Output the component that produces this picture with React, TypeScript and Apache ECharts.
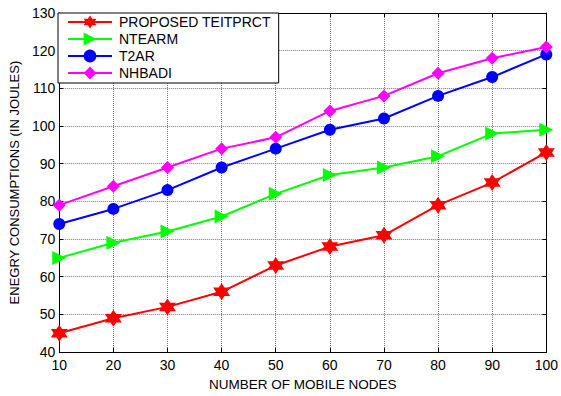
import React, { useEffect, useRef } from "react";
import * as echarts from "echarts";

const categories = [10, 20, 30, 40, 50, 60, 70, 80, 90, 100];
const proposed = [45, 49, 52, 56, 63, 68, 71, 79, 85, 93];
const ntearm = [65, 69, 72, 76, 82, 87, 89, 92, 98, 99];
const t2ar = [74, 78, 83, 89, 94, 99, 102, 108, 113, 119];
const nhbadi = [79, 84, 89, 94, 97, 104, 108, 114, 118, 121];
const seriesNames = ["PROPOSED TEITPRCT", "NTEARM", "T2AR", "NHBADI"];

const STAR =
  "path://M0,-10 L2.9,-5 L8.66,-5 L5.77,0 L8.66,5 L2.9,5 L0,10 L-2.9,5 L-8.66,5 L-5.77,0 L-8.66,-5 L-2.9,-5 Z";
const TRI = "path://M0,0 L10,5 L0,10 Z";

export default function App() {
  const ref = useRef<HTMLDivElement>(null);
  useEffect(() => {
    const chart = echarts.init(ref.current!, null, { renderer: "svg" });
    const font = "'Liberation Sans', Arial, sans-serif";
    const toPairs = (arr: number[]) => categories.map((c, i) => [c, arr[i]]);
    const mk = (name: string, data: number[], color: string, symbol: string, size: number) => ({
      name,
      type: "line",
      data: toPairs(data),
      symbol,
      symbolSize: size,
      showAllSymbol: true,
      lineStyle: { color, width: 2 },
      itemStyle: { color, borderWidth: 0 },
      xAxisIndex: 0,
      yAxisIndex: 0,
    });
    chart.setOption({
      animation: false,
      backgroundColor: "#fff",
      grid: { left: 58, right: 12, top: 13, bottom: 40, containLabel: false },
      legend: {
        orient: "vertical",
        left: 58,
        top: 13,
        width: 222,
        itemWidth: 44,
        itemHeight: 16,
        itemGap: 3,
        padding: [2, 8, 3, 9],
        backgroundColor: "#fff",
        borderColor: "#000",
        borderWidth: 1,
        borderRadius: 0,
        textStyle: { fontFamily: font, fontSize: 14, color: "#000", padding: [0, 0, 0, 2] },
        data: seriesNames,
      },
      xAxis: [
        {
          type: "value",
          min: 10,
          max: 100,
          interval: 10,
          axisLine: { show: true, onZero: false, lineStyle: { color: "#000", width: 1 } },
          axisTick: { show: true, inside: true, length: 4, lineStyle: { color: "#000" } },
          axisLabel: { fontFamily: font, fontSize: 14, color: "#000", margin: 6 },
          splitLine: { show: true, lineStyle: { color: "#777", type: "dotted", width: 1 } },
          name: "NUMBER OF MOBILE NODES",
          nameLocation: "middle",
          nameGap: 21,
          nameTextStyle: { fontFamily: font, fontSize: 13.5, color: "#000" },
        },
        {
          type: "value",
          position: "top",
          min: 10,
          max: 100,
          interval: 10,
          axisLine: { show: true, onZero: false, lineStyle: { color: "#000", width: 1 } },
          axisTick: { show: true, inside: true, length: 4, lineStyle: { color: "#000" } },
          axisLabel: { show: false },
          splitLine: { show: false },
        },
      ],
      yAxis: [
        {
          type: "value",
          min: 40,
          max: 130,
          interval: 10,
          axisLine: { show: true, onZero: false, lineStyle: { color: "#000", width: 1 } },
          axisTick: { show: true, inside: true, length: 4, lineStyle: { color: "#000" } },
          axisLabel: { fontFamily: font, fontSize: 14, color: "#000", margin: 4 },
          splitLine: { show: true, lineStyle: { color: "#777", type: "dotted", width: 1 } },
          name: "ENEGRY CONSUMPTIONS (IN JOULES)",
          nameLocation: "middle",
          nameGap: 36,
          nameTextStyle: { fontFamily: font, fontSize: 13, color: "#000" },
        },
        {
          type: "value",
          position: "right",
          min: 40,
          max: 130,
          interval: 10,
          axisLine: { show: true, onZero: false, lineStyle: { color: "#000", width: 1 } },
          axisTick: { show: true, inside: true, length: 4, lineStyle: { color: "#000" } },
          axisLabel: { show: false },
          splitLine: { show: false },
        },
      ],
      series: [
        mk(seriesNames[0], proposed, "#ff0000", STAR, 17),
        mk(seriesNames[1], ntearm, "#00ff00", TRI, 14),
        mk(seriesNames[2], t2ar, "#0000ff", "circle", 12),
        mk(seriesNames[3], nhbadi, "#ff00ff", "diamond", 13),
      ],
    });
    return () => chart.dispose();
  }, []);
  return (
    <div
      ref={ref}
      style={{ position: "absolute", left: 0, top: 0, width: 561, height: 396 }}
    />
  );
}
